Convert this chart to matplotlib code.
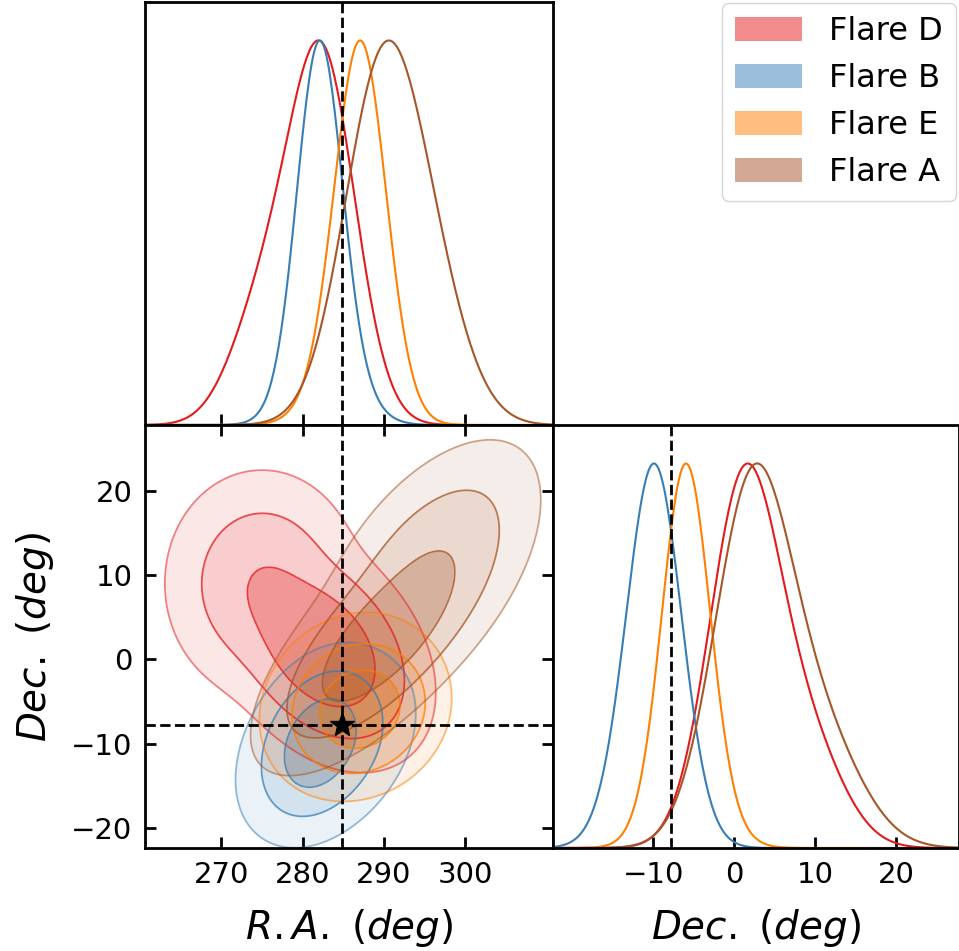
import numpy as np
import matplotlib
matplotlib.use("Agg")
import matplotlib.pyplot as plt
from matplotlib.patches import Patch
from matplotlib.colors import to_rgba

names = ["Flare D", "Flare B", "Flare E", "Flare A"]
colors = ["#e41a1c", "#377eb8", "#ff7f00", "#a65628"]

ra_mu = [[282.4, 275.0], [282.0, 283.0], [287.2, 286.0], [289.6, 295.5]]
dec_mu = [[1.2, 9.0], [-9.8, -10.5], [-6.0, -5.5], [2.2, 10.5]]
ra_sig = [[4.1, 4.0], [2.7, 3.7], [3.1, 3.9], [4.7, 4.6]]
dec_sig = [[4.3, 4.5], [3.3, 3.9], [2.9, 3.8], [4.7, 5.2]]
rho = [[-0.35, 0.0], [0.3, 0.35], [0.1, 0.15], [0.7, 0.55]]
weight = [[0.78, 0.22], [0.75, 0.25], [0.8, 0.2], [0.75, 0.25]]

mass_levels = [0.997, 0.95, 0.68]

ra_true, dec_true = 284.8, -7.8
ra_ticks = [270, 280, 290, 300]
dec_ticks = [-20, -10, 0, 10, 20]
dec_ticks_diag = [-10, 0, 10, 20]
ra_lim = (260.6, 310.8)
dec_lim = (-22.4, 27.8)

ra = np.linspace(250, 325, 500)
dec = np.linspace(-40, 50, 500)
RA, DEC = np.meshgrid(ra, dec)


def density(i):
    d = np.zeros_like(RA)
    for m1, m2, s1, s2, r, w in zip(ra_mu[i], dec_mu[i], ra_sig[i], dec_sig[i], rho[i], weight[i]):
        x = (RA - m1) / s1
        y = (DEC - m2) / s2
        q = (x**2 - 2 * r * x * y + y**2) / (1 - r**2)
        d += w * np.exp(-0.5 * q) / (2 * np.pi * s1 * s2 * np.sqrt(1 - r**2))
    return d


def hpd_levels(d):
    flat = np.sort(d.ravel())[::-1]
    cum = np.cumsum(flat)
    cum /= cum[-1]
    return [flat[np.searchsorted(cum, m)] for m in mass_levels]


fig = plt.figure(figsize=(9.59, 9.51), dpi=100)
ax_top = fig.add_axes([0.1512, 0.5531, 0.4254, 0.4448])
ax_2d = fig.add_axes([0.1512, 0.1083, 0.4254, 0.4448])
ax_dec = fig.add_axes([0.5766, 0.1083, 0.4234, 0.4448])

handles = []
for i, (name, c) in enumerate(zip(names, colors)):
    d = density(i)
    lv = hpd_levels(d)
    ax_2d.contourf(RA, DEC, d, levels=lv + [d.max() * 1.01],
                   colors=[to_rgba(c, 0.1), to_rgba(c, 0.22), to_rgba(c, 0.45)])
    ax_2d.contour(RA, DEC, d, levels=lv,
                  colors=[to_rgba(c, 0.5), to_rgba(c, 0.7), to_rgba(c, 0.6)], linewidths=1.3)
    m_ra = d.sum(axis=0)
    m_dec = d.sum(axis=1)
    ax_top.plot(ra, m_ra / m_ra.max(), color=c, lw=1.5)
    ax_dec.plot(dec, m_dec / m_dec.max(), color=c, lw=1.5)
    handles.append(Patch(facecolor=c, alpha=0.5, label=name))

for ax in (ax_top, ax_2d):
    ax.axvline(ra_true, color="k", ls="--", lw=2)
ax_2d.axhline(dec_true, color="k", ls="--", lw=2)
ax_dec.axvline(dec_true, color="k", ls="--", lw=2)
ax_2d.plot(ra_true, dec_true, marker="*", color="k", ms=18, ls="none")

ax_top.set_xlim(ra_lim)
ax_top.set_ylim(0, 1.1)
ax_2d.set_xlim(ra_lim)
ax_2d.set_ylim(dec_lim)
ax_dec.set_xlim(dec_lim)
ax_dec.set_ylim(0, 1.1)

for ax in (ax_top, ax_2d, ax_dec):
    for s in ax.spines.values():
        s.set_linewidth(2)
    ax.tick_params(direction="in", length=8, width=2, labelsize=21, pad=9)

ax_top.set_xticks(ra_ticks)
ax_top.set_xticklabels([])
ax_top.set_yticks([])

ax_2d.set_xticks(ra_ticks)
ax_2d.set_yticks(dec_ticks)
ax_2d.tick_params(top=True, right=True)
ax_2d.set_xlabel(r"$R.A.\ (deg)$", fontsize=28, labelpad=13)
ax_2d.set_ylabel(r"$Dec.\ (deg)$", fontsize=28, labelpad=11)

ax_dec.set_xticks(dec_ticks_diag)
ax_dec.set_yticks([])
ax_dec.set_xlabel(r"$Dec.\ (deg)$", fontsize=28, labelpad=13)

fig.legend(handles=handles, loc="upper right", bbox_to_anchor=(1.0, 1.0),
           fontsize=23, borderaxespad=0.1, handlelength=2.1, handleheight=0.8,
           handletextpad=0.85)

fig.savefig("out.png", dpi=100)
